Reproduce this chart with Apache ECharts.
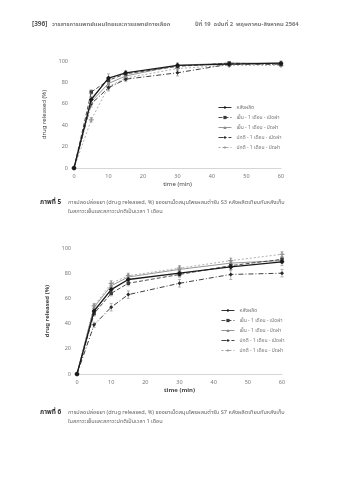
<!DOCTYPE html>
<html><head><meta charset="utf-8">
<script src="https://cdn.jsdelivr.net/npm/echarts@6/dist/echarts.min.js"></script>
<style>html,body{margin:0;padding:0;background:#fff}#c{width:341px;height:480px}</style>
</head><body><div id="c"></div>
<script>
const times = [0, 5, 10, 15, 30, 45, 60];
const seriesNames = ['หลังผลิต', 'เย็น - 1 เดือน - เปิดฝา', 'เย็น - 1 เดือน - ปิดฝา', 'ปกติ - 1 เดือน - เปิดฝา', 'ปกติ - 1 เดือน - ปิดฝา'];
const xTicks = [0, 10, 20, 30, 40, 50, 60];
const yTicks = [0, 20, 40, 60, 80, 100];

// Figure 5 (S3)
const s3After = [0, 64, 84, 89, 96, 97, 98];
const s3ColdOpen = [0, 71, 82, 88, 95, 98, 97];
const s3ColdClosed = [0, 62, 79, 86, 96, 98, 98];
const s3NormOpen = [0, 60, 75, 83, 89, 97, 97];
const s3NormClosed = [0, 45, 76, 84, 93, 96, 96];
const s3AfterErr = [0, 3, 4, 2, 2, 2, 2];
const s3ColdOpenErr = [0, 2, 2, 2, 1, 1, 2];
const s3ColdClosedErr = [0, 3, 3, 2, 2, 1, 1];
const s3NormOpenErr = [0, 3, 3, 2, 3, 2, 2];
const s3NormClosedErr = [0, 2, 3, 2, 2, 1, 1];

// Figure 6 (S7)
const s7After = [0, 50, 67, 75, 80, 85, 89];
const s7ColdOpen = [0, 48, 64, 72, 79, 86, 91];
const s7ColdClosed = [0, 53, 70, 77, 83, 88, 90];
const s7NormOpen = [0, 39, 53, 63, 72, 79, 80];
const s7NormClosed = [0, 54, 72, 78, 84, 90, 95];
const s7AfterErr = [0, 3, 3, 2, 3, 3, 3];
const s7ColdOpenErr = [0, 2, 2, 2, 2, 3, 2];
const s7ColdClosedErr = [0, 2, 2, 2, 2, 2, 2];
const s7NormOpenErr = [0, 2, 3, 3, 3, 4, 3];
const s7NormClosedErr = [0, 2, 2, 2, 2, 2, 2];

const headerLeft = 'วารสารการแพทย์แผนไทยและการแพทย์ทางเลือก';
const headerRight = 'ปีที่ 19  ฉบับที่ 2  พฤษภาคม-สิงหาคม 2564';
const pageNo = '[396]';
const cap5Label = 'ภาพที่ 5';
const cap5L1 = 'การปลดปล่อยยา (drug released, %) ของยาเม็ดสมุนไพรผสมตำรับ S3 หลังผลิตเทียบกับหลังเก็บ';
const cap5L2 = 'ในสภาวะเย็นและสภาวะปกติเป็นเวลา 1 เดือน';
const cap6Label = 'ภาพที่ 6';
const cap6L1 = 'การปลดปล่อยยา (drug released, %) ของยาเม็ดสมุนไพรผสมตำรับ S7 หลังผลิตเทียบกับหลังเก็บ';
const cap6L2 = 'ในสภาวะเย็นและสภาวะปกติเป็นเวลา 1 เดือน';

const FONT = '"Noto Sans", "Noto Sans Thai", "DejaVu Sans", sans-serif';
const styles = [
  {color: '#1a1a1a', type: 'solid', width: 1.3, symbol: 'diamond', size: 5},
  {color: '#3a3a3a', type: [4, 2], width: 0.9, symbol: 'rect', size: 3.5},
  {color: '#8a8a8a', type: 'solid', width: 0.9, symbol: 'triangle', size: 4},
  {color: '#2a2a2a', type: [5, 2, 1, 2], width: 0.9, symbol: 'diamond', size: 4},
  {color: '#9a9a9a', type: [2, 2], width: 0.8, symbol: 'path://M3,0h2v3h3v2h-3v3h-2v-3h-3v-2h3z', size: 5}
];

const chart = echarts.init(document.getElementById('c'), null, {renderer: 'canvas'});

function pairs(v) { return times.map((t, i) => [t, v[i]]); }
function triples(v, e) { return times.map((t, i) => [t, v[i], e[i]]); }

function lineSeries(idx, gi, vals) {
  const s = styles[idx];
  return {
    type: 'line', name: seriesNames[idx], xAxisIndex: gi, yAxisIndex: gi,
    data: pairs(vals), symbol: s.symbol, symbolSize: s.size, z: 5 - idx,
    lineStyle: {color: s.color, type: s.type, width: s.width},
    itemStyle: {color: s.color}, animation: false
  };
}
function errSeries(idx, gi, vals, errs) {
  return {
    type: 'custom', xAxisIndex: gi, yAxisIndex: gi, data: triples(vals, errs), silent: true, animation: false,
    renderItem: function (params, api) {
      const e = api.value(2);
      if (!e) return null;
      const lo = api.coord([api.value(0), api.value(1) - e]);
      const hi = api.coord([api.value(0), api.value(1) + e]);
      const st = {stroke: '#888', lineWidth: 0.6};
      return {type: 'group', children: [
        {type: 'line', shape: {x1: lo[0], y1: lo[1], x2: hi[0], y2: hi[1]}, style: st},
        {type: 'line', shape: {x1: lo[0] - 1.5, y1: lo[1], x2: lo[0] + 1.5, y2: lo[1]}, style: st},
        {type: 'line', shape: {x1: hi[0] - 1.5, y1: hi[1], x2: hi[0] + 1.5, y2: hi[1]}, style: st}
      ]};
    }
  };
}

function xAxis(gi, bold) {
  return {
    type: 'value', gridIndex: gi, min: 0, max: 60, interval: 10,
    name: 'time (min)', nameLocation: 'middle', nameGap: 13,
    nameTextStyle: {fontSize: 6, color: '#444', fontFamily: FONT, fontWeight: bold ? 'bold' : 'normal'},
    axisLine: {show: true, lineStyle: {color: '#ccc', width: 0.8}},
    axisTick: {show: false}, splitLine: {show: false},
    axisLabel: {fontSize: 5.5, color: '#777', margin: 5, fontFamily: FONT,
      formatter: v => xTicks.includes(v) ? String(v) : ''}
  };
}
function yAxis(gi, bold) {
  return {
    type: 'value', gridIndex: gi, min: 0, max: 100, interval: 20,
    name: 'drug released (%)', nameLocation: 'middle', nameGap: 17, nameRotate: 90,
    nameTextStyle: {fontSize: 6, color: '#444', fontFamily: FONT, fontWeight: bold ? 'bold' : 'normal'},
    axisLine: {show: false}, axisTick: {show: false}, splitLine: {show: false},
    axisLabel: {fontSize: 5.5, color: '#777', margin: 6, fontFamily: FONT,
      formatter: v => yTicks.includes(v) ? String(v) : ''}
  };
}

const s3Vals = [s3After, s3ColdOpen, s3ColdClosed, s3NormOpen, s3NormClosed];
const s3Errs = [s3AfterErr, s3ColdOpenErr, s3ColdClosedErr, s3NormOpenErr, s3NormClosedErr];
const s7Vals = [s7After, s7ColdOpen, s7ColdClosed, s7NormOpen, s7NormClosed];
const s7Errs = [s7AfterErr, s7ColdOpenErr, s7ColdClosedErr, s7NormOpenErr, s7NormClosedErr];

const series = [];
s3Vals.forEach((v, i) => series.push(lineSeries(i, 0, v)));
s3Errs.forEach((e, i) => series.push(errSeries(i, 0, s3Vals[i], e)));
s7Vals.forEach((v, i) => { const s = lineSeries(i, 1, v); s.name = seriesNames[i] + ' '; series.push(s); });
s7Errs.forEach((e, i) => series.push(errSeries(i, 1, s7Vals[i], e)));

function txt(x, y, t, size, fill, weight) {
  return {type: 'text', left: x, top: y, silent: true,
    style: {text: t, fontSize: size, fill: fill || '#666', fontFamily: FONT, fontWeight: weight || 'normal'}};
}

const legendCommon = {orient: 'vertical', itemWidth: 13, itemHeight: 4, itemGap: 5,
  lineStyle: {width: 0.9}, textStyle: {fontSize: 5, color: '#777', fontFamily: FONT}};

chart.setOption({
  backgroundColor: '#fff',
  animation: false,
  grid: [
    {left: 74, top: 61, width: 207, height: 107},
    {left: 77, top: 248, width: 205, height: 126}
  ],
  xAxis: [xAxis(0, false), xAxis(1, true)],
  yAxis: [yAxis(0, false), yAxis(1, true)],
  legend: [
    Object.assign({data: seriesNames, left: 213, top: 100}, legendCommon),
    Object.assign({data: seriesNames.map(n => n + ' '), left: 216, top: 303}, legendCommon)
  ],
  graphic: [
    txt(32, 21, pageNo, 6.5, '#555', 'bold'),
    txt(52, 21, headerLeft, 5.8, '#777', 'bold'),
    txt(195, 21, headerRight, 5.8, '#777', 'bold'),
    txt(40, 199, cap5Label, 6.5, '#333', 'bold'),
    txt(68, 199, cap5L1, 5.6, '#666'),
    txt(68, 208, cap5L2, 5.6, '#666'),
    txt(40, 409, cap6Label, 6.5, '#333', 'bold'),
    txt(68, 409, cap6L1, 5.6, '#666'),
    txt(68, 418, cap6L2, 5.6, '#666')
  ],
  series: series
});
</script></body></html>
